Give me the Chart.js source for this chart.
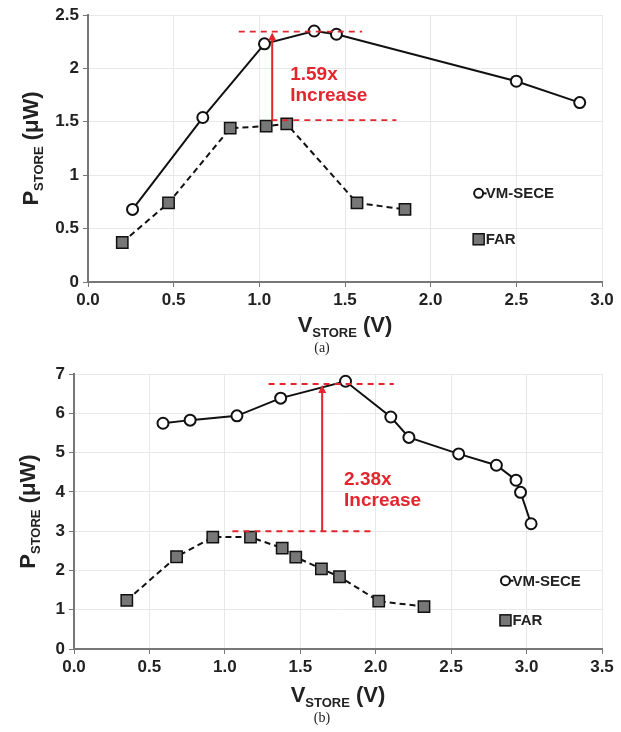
<!DOCTYPE html>
<html>
<head>
<meta charset="utf-8">
<script src="https://cdn.jsdelivr.net/npm/chart.js@4.4.0/dist/chart.umd.min.js"></script>
<style>
    body { margin: 0; background: #ffffff; }
    canvas { display: block; }
</style>
</head>
<body>
<canvas id="chart-a" width="621" height="360"></canvas>
<canvas id="chart-b" width="621" height="372"></canvas>
<script>
// Panel (a) data
const vmseceA_V = [0.26, 0.67, 1.03, 1.32, 1.45, 2.50, 2.87];
const vmseceA_P = [0.68, 1.54, 2.23, 2.35, 2.32, 1.88, 1.68];
const farA_V = [0.20, 0.47, 0.83, 1.04, 1.16, 1.57, 1.85];
const farA_P = [0.37, 0.74, 1.44, 1.46, 1.48, 0.74, 0.68];

// Panel (b) data
const vmseceB_V = [0.59, 0.77, 1.08, 1.37, 1.80, 2.10, 2.22, 2.55, 2.80, 2.93, 2.96, 3.03];
const vmseceB_P = [5.75, 5.83, 5.94, 6.39, 6.82, 5.91, 5.39, 4.97, 4.68, 4.30, 3.99, 3.19];
const farB_V = [0.35, 0.68, 0.92, 1.17, 1.38, 1.47, 1.64, 1.76, 2.02, 2.32];
const farB_P = [1.24, 2.35, 2.85, 2.85, 2.57, 2.34, 2.04, 1.84, 1.22, 1.08];

// Increase labels
const ratioLabels = ['1.59x', '2.38x'];
const seriesNames = ['VM-SECE', 'FAR'];
const panelLabels = ['(a)', '(b)'];

const RED = '#e3262e';
const FONT = '"Liberation Sans", Arial, sans-serif';
Chart.defaults.font.family = FONT;

function toPoints(xs, ys) {
    return xs.map((v, i) => ({ x: v, y: ys[i] }));
}

// draws text with a subscript part, e.g. P_STORE (uW)
function drawSubText(ctx, parts, cx, cy, angle) {
    ctx.save();
    ctx.translate(cx, cy);
    ctx.rotate(angle);
    let total = 0;
    parts.forEach(p => {
        ctx.font = `bold ${p.size}px ${FONT}`;
        p.w = ctx.measureText(p.text).width;
        total += p.w;
    });
    let x = -total / 2;
    ctx.fillStyle = '#222';
    ctx.textBaseline = 'alphabetic';
    ctx.textAlign = 'left';
    parts.forEach(p => {
        ctx.font = `bold ${p.size}px ${FONT}`;
        ctx.fillText(p.text, x, 8 + p.dy);
        x += p.w;
    });
    ctx.restore();
}

const overlayPlugin = {
    id: 'overlay',
    afterDraw(chart, args, o) {
        const { ctx, chartArea, scales } = chart;
        const xs = scales.x, ys = scales.y;
        const px = v => xs.getPixelForValue(v);
        const py = v => ys.getPixelForValue(v);

        // red guide lines
        ctx.save();
        ctx.strokeStyle = RED;
        ctx.lineWidth = 1.8;
        ctx.setLineDash([6, 5]);
        ctx.beginPath();
        ctx.moveTo(px(o.topLine[0]), py(o.topLine[2]));
        ctx.lineTo(px(o.topLine[1]), py(o.topLine[2]));
        ctx.moveTo(px(o.botLine[0]), py(o.botLine[2]));
        ctx.lineTo(px(o.botLine[1]), py(o.botLine[2]));
        ctx.stroke();
        ctx.setLineDash([]);
        ctx.lineWidth = 2;
        const ax = px(o.arrowX);
        const aTop = py(o.topLine[2]) + 1;
        ctx.beginPath();
        ctx.moveTo(ax, py(o.botLine[2]));
        ctx.lineTo(ax, aTop + 6);
        ctx.stroke();
        ctx.fillStyle = RED;
        ctx.beginPath();
        ctx.moveTo(ax, aTop);
        ctx.lineTo(ax - 4, aTop + 8);
        ctx.lineTo(ax + 4, aTop + 8);
        ctx.closePath();
        ctx.fill();

        ctx.font = `bold 19px ${FONT}`;
        ctx.textAlign = 'left';
        ctx.textBaseline = 'middle';
        ctx.fillText(o.ratio, px(o.textPos[0]), py(o.textPos[1]));
        ctx.fillText('Increase', px(o.textPos[0]), py(o.textPos[2]));
        ctx.restore();

        // legend
        ctx.save();
        const lx = px(o.legend[0]);
        const ly1 = py(o.legend[1]);
        const ly2 = py(o.legend[2]);
        ctx.strokeStyle = '#111';
        ctx.lineWidth = 2;
        ctx.beginPath();
        ctx.moveTo(lx, ly1);
        ctx.lineTo(lx + 8, ly1);
        ctx.stroke();
        ctx.fillStyle = '#fff';
        ctx.beginPath();
        ctx.arc(lx, ly1, 4.5, 0, Math.PI * 2);
        ctx.fill();
        ctx.stroke();
        ctx.fillStyle = '#777';
        ctx.lineWidth = 1.5;
        ctx.fillRect(lx - 5.5, ly2 - 5.5, 11, 11);
        ctx.strokeRect(lx - 5.5, ly2 - 5.5, 11, 11);
        ctx.fillStyle = '#222';
        ctx.font = `bold 15px ${FONT}`;
        ctx.textAlign = 'left';
        ctx.textBaseline = 'middle';
        ctx.fillText(seriesNames[0], lx + 7, ly1 + 1);
        ctx.fillText(seriesNames[1], lx + 7, ly2 + 1);
        ctx.restore();

        // axis titles
        const midX = (chartArea.left + chartArea.right) / 2;
        const midY = (chartArea.top + chartArea.bottom) / 2;
        drawSubText(ctx, [
            { text: 'V', size: 22, dy: 0 },
            { text: 'STORE', size: 13, dy: 5 },
            { text: ' (V)', size: 22, dy: 0 }
        ], midX, chartArea.bottom + o.xTitleOffset, 0);
        drawSubText(ctx, [
            { text: 'P', size: 22, dy: 0 },
            { text: 'STORE', size: 13, dy: 5 },
            { text: ' (\u03bcW)', size: 22, dy: 0 }
        ], o.yTitleX, midY, -Math.PI / 2);

        // panel label
        ctx.save();
        ctx.fillStyle = '#222';
        ctx.font = '14px "Liberation Serif", "Times New Roman", serif';
        ctx.textAlign = 'center';
        ctx.textBaseline = 'middle';
        ctx.fillText(o.panel, o.panelX, chartArea.bottom + o.panelOffset);
        ctx.restore();
    }
};

function makeChart(id, cfg) {
    const canvas = document.getElementById(id);
    return new Chart(canvas, {
        type: 'scatter',
        data: {
            datasets: [{
                label: seriesNames[0],
                data: cfg.vm,
                showLine: true,
                borderColor: '#111',
                borderWidth: 2,
                pointStyle: 'circle',
                pointRadius: 5.5,
                pointBackgroundColor: '#fff',
                pointBorderColor: '#111',
                pointBorderWidth: 2
            }, {
                label: seriesNames[1],
                data: cfg.far,
                showLine: true,
                borderColor: '#111',
                borderWidth: 2,
                borderDash: [6, 4],
                pointStyle: 'rect',
                pointRadius: 8,
                pointBackgroundColor: '#777',
                pointBorderColor: '#111',
                pointBorderWidth: 1.5
            }]
        },
        options: {
            responsive: false,
            animation: false,
            layout: {
                padding: { left: 0, right: 621 - cfg.right, top: cfg.top, bottom: 0 }
            },
            plugins: {
                legend: { display: false },
                tooltip: { enabled: false },
                overlay: cfg.overlay
            },
            scales: {
                x: {
                    type: 'linear',
                    min: 0,
                    max: cfg.xMax,
                    afterFit: (scale) => { scale.height = cfg.height - cfg.bottom; },
                    ticks: {
                        stepSize: 0.5,
                        color: '#222',
                        font: { size: 17, weight: 'bold' },
                        padding: 3,
                        maxRotation: 0,
                        callback: v => v.toFixed(1)
                    },
                    grid: { color: '#e8e8e8', tickColor: '#777', tickLength: 5 },
                    border: { color: '#777', width: 2 }
                },
                y: {
                    min: 0,
                    max: cfg.yMax,
                    afterFit: (scale) => { scale.width = cfg.left; },
                    ticks: {
                        stepSize: cfg.yStep,
                        color: '#222',
                        font: { size: 17, weight: 'bold' },
                        padding: 4,
                        callback: v => String(Math.round(v * 10) / 10)
                    },
                    grid: { color: '#e8e8e8', tickColor: '#777', tickLength: 5 },
                    border: { color: '#777', width: 2 }
                }
            }
        },
        plugins: [overlayPlugin]
    });
}

makeChart('chart-a', {
    vm: toPoints(vmseceA_V, vmseceA_P),
    far: toPoints(farA_V, farA_P),
    xMax: 3, yMax: 2.5, yStep: 0.5,
    left: 88, right: 602, top: 15, bottom: 282, height: 360,
    overlay: {
        ratio: ratioLabels[0],
        topLine: [0.88, 1.60, 2.345],
        botLine: [1.07, 1.80, 1.515],
        arrowX: 1.075,
        textPos: [1.18, 1.94, 1.74],
        legend: [2.28, 0.83, 0.40],
        xTitleOffset: 42,
        yTitleX: 30,
        panel: panelLabels[0],
        panelX: 322,
        panelOffset: 66
    }
});

makeChart('chart-b', {
    vm: toPoints(vmseceB_V, vmseceB_P),
    far: toPoints(farB_V, farB_P),
    xMax: 3.5, yMax: 7, yStep: 1,
    left: 74, right: 602, top: 12, bottom: 289, height: 372,
    overlay: {
        ratio: ratioLabels[1],
        topLine: [1.29, 2.12, 6.75],
        botLine: [1.05, 1.98, 3.0],
        arrowX: 1.645,
        textPos: [1.79, 4.31, 3.77],
        legend: [2.86, 1.74, 0.73],
        xTitleOffset: 45,
        yTitleX: 27,
        panel: panelLabels[1],
        panelX: 322,
        panelOffset: 69
    }
});
</script>
</body>
</html>
